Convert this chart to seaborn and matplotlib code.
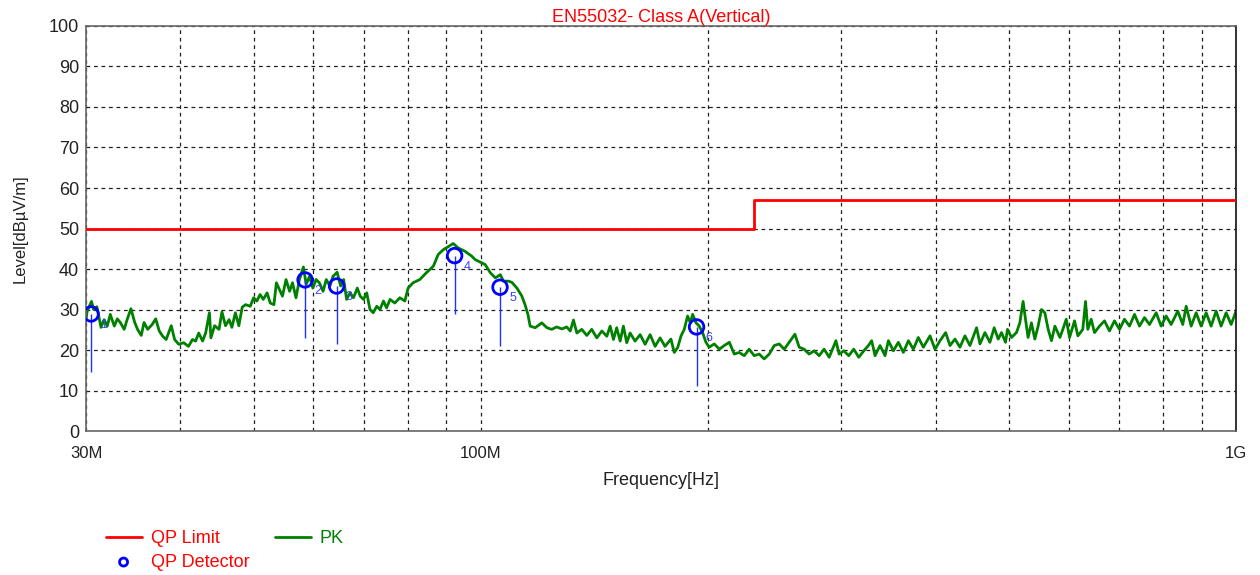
import numpy as np
import pandas as pd
import matplotlib
matplotlib.use("Agg")
import matplotlib.pyplot as plt
import seaborn as sns

# PK trace (frequency in MHz, level in dBuV/m)
pk_freq_mhz = [
    30.0, 30.1, 30.5, 30.7, 31.0, 31.4, 31.7, 32.0, 32.3, 32.7, 33.0, 33.3, 33.7, 34.0,
    34.4, 34.8, 35.1, 35.5, 35.8, 36.2, 36.7, 37.1, 37.5, 37.9, 38.3, 38.9, 39.3, 39.8,
    40.4, 41.0, 41.5, 41.9, 42.3, 42.8, 43.2, 43.7, 43.9, 44.4, 45.0, 45.4, 45.9, 46.4,
    46.8, 47.3, 47.8, 48.3, 48.8, 49.5, 50.0, 50.5, 51.0, 51.5, 52.1, 52.6, 53.2, 53.6,
    54.6, 55.2, 55.8, 56.3, 56.9, 57.5, 58.2, 58.7, 59.3, 59.9, 60.5, 61.1, 61.8, 62.4,
    63.1, 63.7, 64.5, 65.2, 65.8, 66.4, 67.1, 67.8, 68.6, 69.2, 69.9, 70.6, 71.3, 72.0,
    72.8, 73.5, 74.3, 75.0, 75.8, 76.9, 78.1, 79.3, 80.1, 81.3, 83.0, 84.7, 86.5, 87.8,
    89.2, 90.5, 91.9, 93.3, 95.2, 97.2,
    98.3, 100.3, 101.3, 102.9, 104.5, 106.1, 107.1, 108.8, 109.9, 111.6, 113.3, 114.4,
    115.4, 116.2, 118.0, 120.4, 122.3, 124.1, 126.0, 128.0, 129.9, 131.3, 132.6, 134.0,
    136.0, 138.1, 140.2, 142.4, 144.6, 146.8, 148.3, 149.8, 151.3, 152.9, 154.4, 156.0,
    157.6, 160.0, 162.5, 165.0, 167.5, 170.1, 172.7, 175.3,
    178.5, 180.3, 182.2, 184.1, 185.9, 187.8, 189.4, 190.7, 192.7, 194.6, 196.6, 198.6,
    200.6, 203.7, 206.9, 210.0, 213.3, 216.5, 219.8, 223.2, 226.6, 230.1, 233.6, 237.2,
    240.9, 244.6, 248.3, 252.2, 256.0, 260.5, 263.9, 267.9, 272.0, 276.2, 280.5, 284.8,
    289.2, 295.2, 298.1, 302.3, 307.0, 311.7, 316.5, 321.4,
    325.9, 329.2, 332.6, 337.7, 342.9, 346.4, 351.7, 357.1, 362.6, 368.2, 373.8, 379.5,
    385.4, 393.3, 399.3, 405.5, 412.5, 418.0, 424.4, 430.9, 437.5, 444.2, 453.3, 458.0,
    465.0, 472.1, 478.3, 484.2, 489.1, 495.1, 498.1, 504.2, 511.9, 517.2, 522.4, 526.2,
    530.4, 535.8, 541.4, 546.9, 552.5, 558.2, 563.9, 569.6, 575.6, 584.4,
    589.7, 595.8, 601.9, 611.1, 617.3, 626.7, 631.9, 636.3, 642.9, 649.5, 659.4, 669.5,
    679.8, 690.2, 700.9, 711.6, 722.6, 733.7, 744.9, 756.4, 768.0, 783.8, 795.8, 808.0,
    820.4, 837.2, 850.0, 858.9, 872.1, 885.4, 899.0, 912.8, 926.8, 941.0, 955.4, 970.2,
    985.1, 1000.0,
]
pk_level = [
    27.5, 29.6, 32.0, 30.0, 30.7, 25.6, 27.5, 25.9, 28.8, 25.9, 27.7, 26.8, 25.1, 27.5,
    30.2, 26.8, 25.1, 23.6, 26.8, 25.1, 26.3, 27.7, 24.7, 23.4, 22.6, 26.0, 22.6, 21.4,
    21.8, 20.9, 22.6, 22.2, 24.2, 22.2, 24.2, 29.2, 23.0, 26.0, 25.1, 29.4, 26.0, 27.5,
    25.6, 29.2, 26.0, 30.6, 31.2, 30.8, 32.9, 32.1, 33.7, 32.5, 34.1, 31.6, 31.2, 36.6,
    33.3, 37.4, 34.5, 36.6, 32.9, 37.4, 40.5, 36.2, 38.2, 35.3, 37.4, 36.6, 34.5, 37.4,
    35.8, 38.2, 39.2, 35.8, 37.4, 32.5, 34.1, 32.9, 35.3, 33.3, 32.5, 34.1, 30.0, 29.2,
    30.8, 30.0, 32.1, 30.4, 32.5, 31.6, 32.9, 32.1, 35.3, 36.6, 37.4, 39.1, 40.7, 43.6,
    44.8, 45.5, 46.3, 45.2, 44.4, 43.2,
    42.3, 41.5, 41.1, 39.1, 37.8, 38.6, 37.0, 37.0, 36.7, 35.3, 33.3, 31.2,
    28.8, 25.9, 25.5, 26.7, 25.5, 25.1, 25.7, 25.2, 25.7, 24.7, 27.4, 24.2,
    25.1, 23.6, 25.1, 23.0, 24.7, 23.4, 25.9, 22.6, 25.5, 22.2, 25.9, 21.8,
    24.2, 22.2, 23.8, 21.4, 23.8, 20.9, 23.0, 20.9,
    22.7, 19.4, 20.6, 23.5, 25.1, 28.4, 26.7, 28.8, 26.7, 25.9, 24.3, 21.9,
    20.7, 21.5, 20.2, 21.1, 21.9, 19.0, 19.4, 18.6, 20.2, 18.6, 19.0, 17.8,
    19.0, 21.1, 21.5, 20.2, 21.9, 23.9, 20.7, 20.2, 19.0, 19.8, 18.6, 20.2,
    18.2, 22.3, 19.0, 19.8, 18.6, 20.2, 18.2, 19.8,
    21.1, 22.3, 18.6, 21.1, 18.6, 22.3, 19.8, 21.9, 19.4, 22.3, 20.2, 23.1,
    20.7, 23.5, 20.2, 22.3, 24.3, 21.1, 22.7, 20.7, 23.5, 21.1, 25.5, 21.5,
    24.3, 21.9, 25.5, 22.7, 24.3, 21.9, 25.1, 23.1, 24.3, 26.7, 32.0, 27.6,
    23.1, 26.7, 22.7, 25.9, 30.0, 29.2, 25.1, 22.3, 25.9, 23.1,
    25.1, 27.6, 23.1, 27.2, 23.5, 25.1, 32.0, 25.1, 27.6, 24.3, 25.9, 27.2,
    24.7, 27.2, 25.1, 27.6, 25.9, 28.8, 25.9, 28.0, 26.3, 29.2, 25.9, 28.4,
    26.3, 29.6, 26.3, 30.8, 25.9, 29.2, 25.9, 29.2, 25.9, 29.6, 25.9, 29.2,
    26.3, 29.6,
]

# QP limit (step at 230 MHz)
limit_freq_mhz = [30.0, 230.0, 1000.0]
limit_level = [50.0, 57.0, 57.0]

# QP detector readings
qp_freq_mhz = [30.46, 58.5, 64.4, 92.3, 106.0, 193.0]
qp_level = [28.9, 37.3, 35.8, 43.3, 35.5, 25.7]
qp_stem_low = [14.5, 23.0, 21.5, 28.9, 21.0, 11.1]
qp_labels = ["1", "2", "3", "4", "5", "6"]

pk = pd.DataFrame({"freq": np.array(pk_freq_mhz) * 1e6, "level": pk_level})
lim = pd.DataFrame({"freq": np.array(limit_freq_mhz) * 1e6, "level": limit_level})
qp = pd.DataFrame({"freq": np.array(qp_freq_mhz) * 1e6, "level": qp_level,
                   "low": qp_stem_low, "label": qp_labels})

sns.set_theme(style="white")
plt.rcParams["font.family"] = ["Liberation Sans", "DejaVu Sans"]

fig = plt.figure(figsize=(12.6, 5.75), dpi=100)
ax = fig.add_axes([0.0683, 0.2504, 0.9127, 0.7044])

sns.lineplot(data=lim, x="freq", y="level", ax=ax, color="#ff0000", lw=2,
             drawstyle="steps-post", estimator=None, sort=False, label="QP Limit",
             zorder=3)
sns.lineplot(data=pk, x="freq", y="level", ax=ax, color="#008000", lw=2,
             estimator=None, sort=False, label="PK", zorder=2)

# stems under each QP reading
ax.vlines(qp["freq"], qp["low"], qp["level"], color="#2030ff", lw=1, zorder=4)
sns.scatterplot(data=qp, x="freq", y="level", ax=ax, marker="o", s=110,
                facecolor="none", edgecolor="#0000ff", linewidth=2,
                label="QP Detector", zorder=5)
for _, r in qp.iterrows():
    ax.annotate(r["label"], (r["freq"], r["level"]), xytext=(9, -8),
                textcoords="offset points", ha="center", va="center",
                color="#4040ff", fontsize=9)

ax.set_xscale("log")
ax.set_xlim(30e6, 1e9)
ax.set_ylim(0, 100)
ax.set_xticks([30e6, 100e6, 1e9], ["30M", "100M", "1G"])
ax.set_xticks([f * 1e6 for f in [40, 50, 60, 70, 80, 90, 200, 300, 400, 500, 600, 700, 800, 900]],
              minor=True)
ax.xaxis.set_minor_formatter(plt.NullFormatter())
ax.set_yticks(range(0, 101, 10))
ax.tick_params(axis="both", which="both", length=0, colors="#222222")
ax.tick_params(axis="x", labelsize=12, pad=11)
ax.tick_params(axis="y", labelsize=13, pad=5)
ax.grid(True, which="both", axis="x", color="#202020", ls=(0, (3, 3)), lw=0.9)
ax.grid(True, which="major", axis="y", color="#202020", ls=(0, (3, 3)), lw=0.9)
for s in ax.spines.values():
    s.set_color("#666666")
    s.set_linewidth(1.2)
ax.spines["right"].set_color("#111111")

ax.set_xlabel("Frequency[Hz]", fontsize=13, color="#222222", labelpad=8)
ax.set_ylabel("Level[dBµV/m]", fontsize=12, color="#222222", labelpad=15)
ax.set_title("EN55032- Class A(Vertical)", fontsize=13, color="#ff0000", pad=3)

handles, labels = ax.get_legend_handles_labels()
ax.get_legend().remove()
order = [labels.index("QP Limit"), labels.index("QP Detector"), labels.index("PK")]
leg = fig.legend([handles[i] for i in order], [labels[i] for i in order],
                 loc="upper left", bbox_to_anchor=(0.078, 0.09), ncol=2,
                 frameon=False, fontsize=13, handlelength=2.0, handletextpad=0.5,
                 columnspacing=1.4, labelspacing=0.35, borderaxespad=0,
                 markerscale=0.55)
for txt in leg.get_texts():
    txt.set_color("#008000" if txt.get_text() == "PK" else "#ff0000")

fig.savefig("out.png", dpi=100)
